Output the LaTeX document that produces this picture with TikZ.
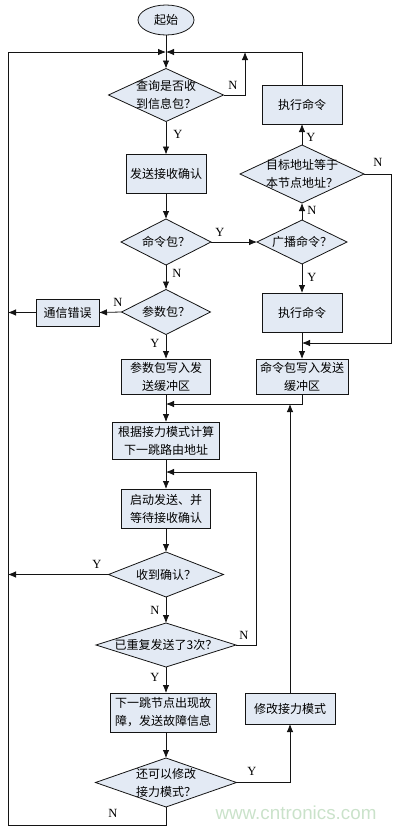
\documentclass[tikz,border=0pt]{standalone}
\usepackage{fontspec}
\setmainfont{Liberation Serif}
\newfontfamily\cjk{Noto Sans CJK SC}
\newfontfamily\wmfont{Liberation Sans}
\usetikzlibrary{shapes.geometric,arrows.meta}
\definecolor{boxfill}{RGB}{227,234,244}
\definecolor{linec}{RGB}{20,20,20}
\definecolor{wmgreen}{RGB}{202,226,202}
\begin{document}
\begin{tikzpicture}[x=1pt,y=-1pt,
  every node/.style={inner sep=0pt, outer sep=0pt},
  proc/.style={draw=linec, fill=boxfill, line width=0.8pt, rectangle, align=center, font=\cjk\fontsize{12}{18}\selectfont},
  startbox/.style={draw=linec, fill=boxfill, line width=0.8pt, ellipse, font=\cjk\fontsize{12}{18}\selectfont},
  dec/.style={draw=linec, fill=boxfill, line width=0.8pt, diamond},
  dtext/.style={align=center, font=\cjk\fontsize{12}{18}\selectfont},
  yn/.style={font=\fontsize{12.5}{13}\selectfont},
  conn/.style={draw=linec, line width=0.8pt},
  arr/.style={conn, -{Latex[length=8pt,width=6.5pt]}},
]
\useasboundingbox (0,0) rectangle (398,828);

% ---- main column ----
\node[startbox, minimum width=56pt, minimum height=30pt] (start) at (166,20) {起始};

\node[dec, minimum width=115pt, minimum height=53pt] (d1) at (166,95) {};
\node[dtext] (d1t) at (d1) {查询是否收\\到信息包？};

\node[proc, minimum width=80pt, minimum height=39pt] (b1) at (166,174) {发送接收确认};

\node[dec, minimum width=90pt, minimum height=46pt] (d2) at (166,242) {};
\node[dtext] (d2t) at (d2) {命令包？};

\node[dec, minimum width=89pt, minimum height=45pt] (d3) at (166,312) {};
\node[dtext] (d3t) at (d3) {参数包？};

\node[proc, minimum width=63pt, minimum height=27pt] (berr) at (67.5,312.5) {通信错误};

\node[proc, minimum width=89pt, minimum height=35pt] (b2) at (166,376.5) {参数包写入发\\送缓冲区};

\node[proc, minimum width=107pt, minimum height=37pt] (b3) at (166,440.5) {根据接力模式计算\\下一跳路由地址};

\node[proc, minimum width=89pt, minimum height=39pt] (b4) at (166,508.5) {启动发送、并\\等待接收确认};

\node[dec, minimum width=115pt, minimum height=45pt] (d4) at (166,574.5) {};
\node[dtext] (d4t) at (d4) {收到确认？};

\node[dec, minimum width=140pt, minimum height=44pt] (d5) at (166,645) {};
\node[dtext] (d5t) at (d5) {已重复发送了3次？};

\node[proc, minimum width=106pt, minimum height=39pt] (b5) at (163,712.5) {下一跳节点出现故\\障，发送故障信息};

\node[dec, minimum width=141pt, minimum height=49pt] (d6) at (166,782.5) {};
\node[dtext] (d6t) at (d6) {还可以修改\\接力模式？};

\node[proc, minimum width=90pt, minimum height=31pt] (b6) at (290,708.5) {修改接力模式};

% ---- right column ----
\node[proc, minimum width=80pt, minimum height=39pt] (bx1) at (302,104.5) {执行命令};

\node[dec, minimum width=124pt, minimum height=58pt] (d7) at (302,174) {};
\node[dtext] (d7t) at (d7) {目标地址等于\\本节点地址？};

\node[dec, minimum width=90pt, minimum height=44pt] (d8) at (302,242) {};
\node[dtext] (d8t) at (d8) {广播命令？};

\node[proc, minimum width=80pt, minimum height=39pt] (bx2) at (302,312.5) {执行命令};

\node[proc, minimum width=92pt, minimum height=35pt] (b7) at (302,376.5) {命令包写入发送\\缓冲区};

% ---- coordinates ----
\coordinate (J0) at (166,52);
\coordinate (n1) at (245,52);
\coordinate (LB) at (8,825);
\coordinate (J1) at (166,404);
\coordinate (J2) at (166,472);
\coordinate (R5) at (256,472);
\coordinate (J3) at (290,404);
\coordinate (R7) at (391,343);
\coordinate (J4) at (302,343);

% ---- connectors ----
\draw[conn] (start.south) -- (J0);
\draw[arr] (J0) -- (d1.north);
\draw[arr] (d1.east) -| (n1);
\draw[arr] (bx1.north) |- (J0);
\draw[arr] (d6.south) |- (LB) |- (J0);

\draw[arr] (d1.south) -- (b1.north);
\draw[arr] (b1.south) -- (d2.north);
\draw[arr] (d2.east) -- (d8.west);
\draw[arr] (d2.south) -- (d3.north);
\draw[arr] (d3.west) -- (berr.east);
\draw[arr] (berr.west) -- (berr.west -| LB);
\draw[arr] (d3.south) -- (b2.north);

\draw[conn] (b2.south) -- (J1);
\draw[arr] (b7.south) |- (J1);
\draw[arr] (J1) -- (b3.north);
\draw[conn] (b3.south) -- (J2);
\draw[arr] (d5.east) -| (R5) -- (J2);
\draw[arr] (J2) -- (b4.north);
\draw[arr] (b4.south) -- (d4.north);
\draw[arr] (d4.west) -- (d4.west -| LB);
\draw[arr] (d4.south) -- (d5.north);
\draw[arr] (d5.south) -- (d5.south |- b5.north);
\draw[arr] (b5.south -| d6.north) -- (d6.north);
\draw[arr] (d6.east) -| (b6.south);
\draw[arr] (b6.north) -- (J3);

\draw[arr] (d8.north) -- (d7.south);
\draw[arr] (d7.north) -- (bx1.south);
\draw[arr] (d7.east) -| (R7) -- (J4);
\draw[arr] (d8.south) -- (bx2.north);
\draw[conn] (bx2.south) -- (J4);
\draw[arr] (J4) -- (b7.north);

% ---- labels ----
\node[yn] (l1) at (233,85) {N};
\node[yn] (l2) at (178,134) {Y};
\node[yn] (l3) at (311,137) {Y};
\node[yn] (l4) at (378,162) {N};
\node[yn] (l5) at (312,210) {N};
\node[yn] (l6) at (220,232) {Y};
\node[yn] (l7) at (177,273) {N};
\node[yn] (l8) at (312,277) {Y};
\node[yn] (l9) at (118,302) {N};
\node[yn] (l10) at (155,343) {Y};
\node[yn] (l11) at (97,564) {Y};
\node[yn] (l12) at (155,610) {N};
\node[yn] (l13) at (244,635) {N};
\node[yn] (l14) at (155,677) {Y};
\node[yn] (l15) at (252,771) {Y};
\node[yn] (l16) at (113,813) {N};

\node[font=\wmfont\fontsize{18.8}{20}\selectfont, text=wmgreen] (wm) at (296,813) {www.cntronics.com};
\end{tikzpicture}
\end{document}
